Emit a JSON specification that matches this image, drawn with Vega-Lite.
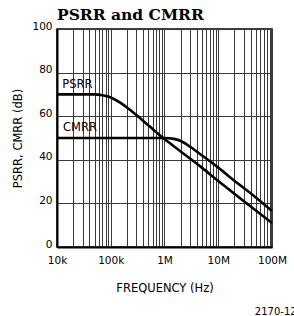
{
  "$schema": "https://vega.github.io/schema/vega-lite/v6.json",
  "autosize": {"type": "none"},
  "padding": {"left": 57, "top": 29, "right": 22, "bottom": 69},
  "width": 215,
  "height": 218,
  "background": "white",
  "title": {
    "text": "PSRR and CMRR",
    "anchor": "start",
    "frame": "group",
    "font": "DejaVu Serif",
    "fontSize": 15.5,
    "fontWeight": "bold",
    "color": "black",
    "offset": -2
  },
  "config": {
    "view": {"stroke": "black", "strokeWidth": 1.5},
    "axis": {
      "grid": true,
      "gridColor": "#3a3a3a",
      "gridOpacity": 1,
      "gridWidth": 1,
      "tickSize": 0,
      "domainColor": "black",
      "domainWidth": 2,
      "labelColor": "black",
      "labelFont": "DejaVu Sans",
      "labelFontSize": 10.5,
      "labelOverlap": false,
      "labelBound": false,
      "labelFlush": false,
      "titleColor": "black",
      "titleFont": "DejaVu Sans",
      "titleFontSize": 11.5,
      "titleFontWeight": "normal"
    }
  },
  "datasets": {
    "curves": [
      {"series": "PSRR", "f": 10000, "db": 70},
      {"series": "PSRR", "f": 30000, "db": 70},
      {"series": "PSRR", "f": 50000, "db": 70},
      {"series": "PSRR", "f": 70000, "db": 69.6},
      {"series": "PSRR", "f": 100000, "db": 68.6},
      {"series": "PSRR", "f": 150000, "db": 66.2},
      {"series": "PSRR", "f": 200000, "db": 64},
      {"series": "PSRR", "f": 300000, "db": 60.5},
      {"series": "PSRR", "f": 500000, "db": 55.8},
      {"series": "PSRR", "f": 1000000, "db": 49.5},
      {"series": "PSRR", "f": 2000000, "db": 43.8},
      {"series": "PSRR", "f": 5000000, "db": 36.3},
      {"series": "PSRR", "f": 10000000, "db": 30.3},
      {"series": "PSRR", "f": 30000000, "db": 21},
      {"series": "PSRR", "f": 100000000, "db": 11},
      {"series": "CMRR", "f": 10000, "db": 50},
      {"series": "CMRR", "f": 100000, "db": 50},
      {"series": "CMRR", "f": 1000000, "db": 50},
      {"series": "CMRR", "f": 1500000, "db": 49.6},
      {"series": "CMRR", "f": 2000000, "db": 48.6},
      {"series": "CMRR", "f": 3000000, "db": 46},
      {"series": "CMRR", "f": 5000000, "db": 42},
      {"series": "CMRR", "f": 10000000, "db": 36.4},
      {"series": "CMRR", "f": 20000000, "db": 30.4},
      {"series": "CMRR", "f": 50000000, "db": 22.7},
      {"series": "CMRR", "f": 100000000, "db": 16.5}
    ],
    "labels": [
      {"label": "PSRR", "f": 12500, "db": 74.1},
      {"label": "CMRR", "f": 12900, "db": 54.7}
    ],
    "footer": [
      {"label": "2170-12", "f": 48000000, "db": -31}
    ]
  },
  "layer": [
    {
      "data": {"name": "curves"},
      "mark": {"type": "line", "color": "black", "strokeWidth": 2.6, "interpolate": "monotone"},
      "encoding": {
        "x": {
          "field": "f",
          "type": "quantitative",
          "scale": {"type": "log", "domain": [10000, 100000000], "nice": false},
          "axis": {
            "title": "FREQUENCY (Hz)",
            "titlePadding": 17,
            "labelPadding": 8,
            "values": [10000, 20000, 30000, 40000, 50000, 60000, 70000, 80000, 90000,
                       100000, 200000, 300000, 400000, 500000, 600000, 700000, 800000, 900000,
                       1000000, 2000000, 3000000, 4000000, 5000000, 6000000, 7000000, 8000000, 9000000,
                       10000000, 20000000, 30000000, 40000000, 50000000, 60000000, 70000000, 80000000, 90000000,
                       100000000],
            "labelExpr": "datum.value == 10000 ? '10k' : datum.value == 100000 ? '100k' : datum.value == 1000000 ? '1M' : datum.value == 10000000 ? '10M' : datum.value == 100000000 ? '100M' : ''"
          }
        },
        "y": {
          "field": "db",
          "type": "quantitative",
          "scale": {"domain": [0, 100], "nice": false},
          "axis": {
            "title": "PSRR, CMRR (dB)",
            "titlePadding": 8,
            "labelPadding": 5,
            "labelBaseline": "alphabetic",
            "values": [0, 10, 20, 30, 40, 50, 60, 70, 80, 90, 100],
            "labelExpr": "datum.value % 20 == 0 ? datum.label : ''"
          }
        },
        "detail": {"field": "series"}
      }
    },
    {
      "data": {"name": "labels"},
      "mark": {"type": "text", "align": "left", "baseline": "middle", "font": "DejaVu Sans", "fontSize": 11.5, "color": "black"},
      "encoding": {
        "x": {"field": "f", "type": "quantitative"},
        "y": {"field": "db", "type": "quantitative"},
        "text": {"field": "label"}
      }
    },
    {
      "data": {"name": "footer"},
      "mark": {"type": "text", "align": "left", "baseline": "alphabetic", "font": "DejaVu Sans", "fontSize": 10, "color": "black"},
      "encoding": {
        "x": {"field": "f", "type": "quantitative"},
        "y": {"field": "db", "type": "quantitative"},
        "text": {"field": "label"}
      }
    }
  ]
}
